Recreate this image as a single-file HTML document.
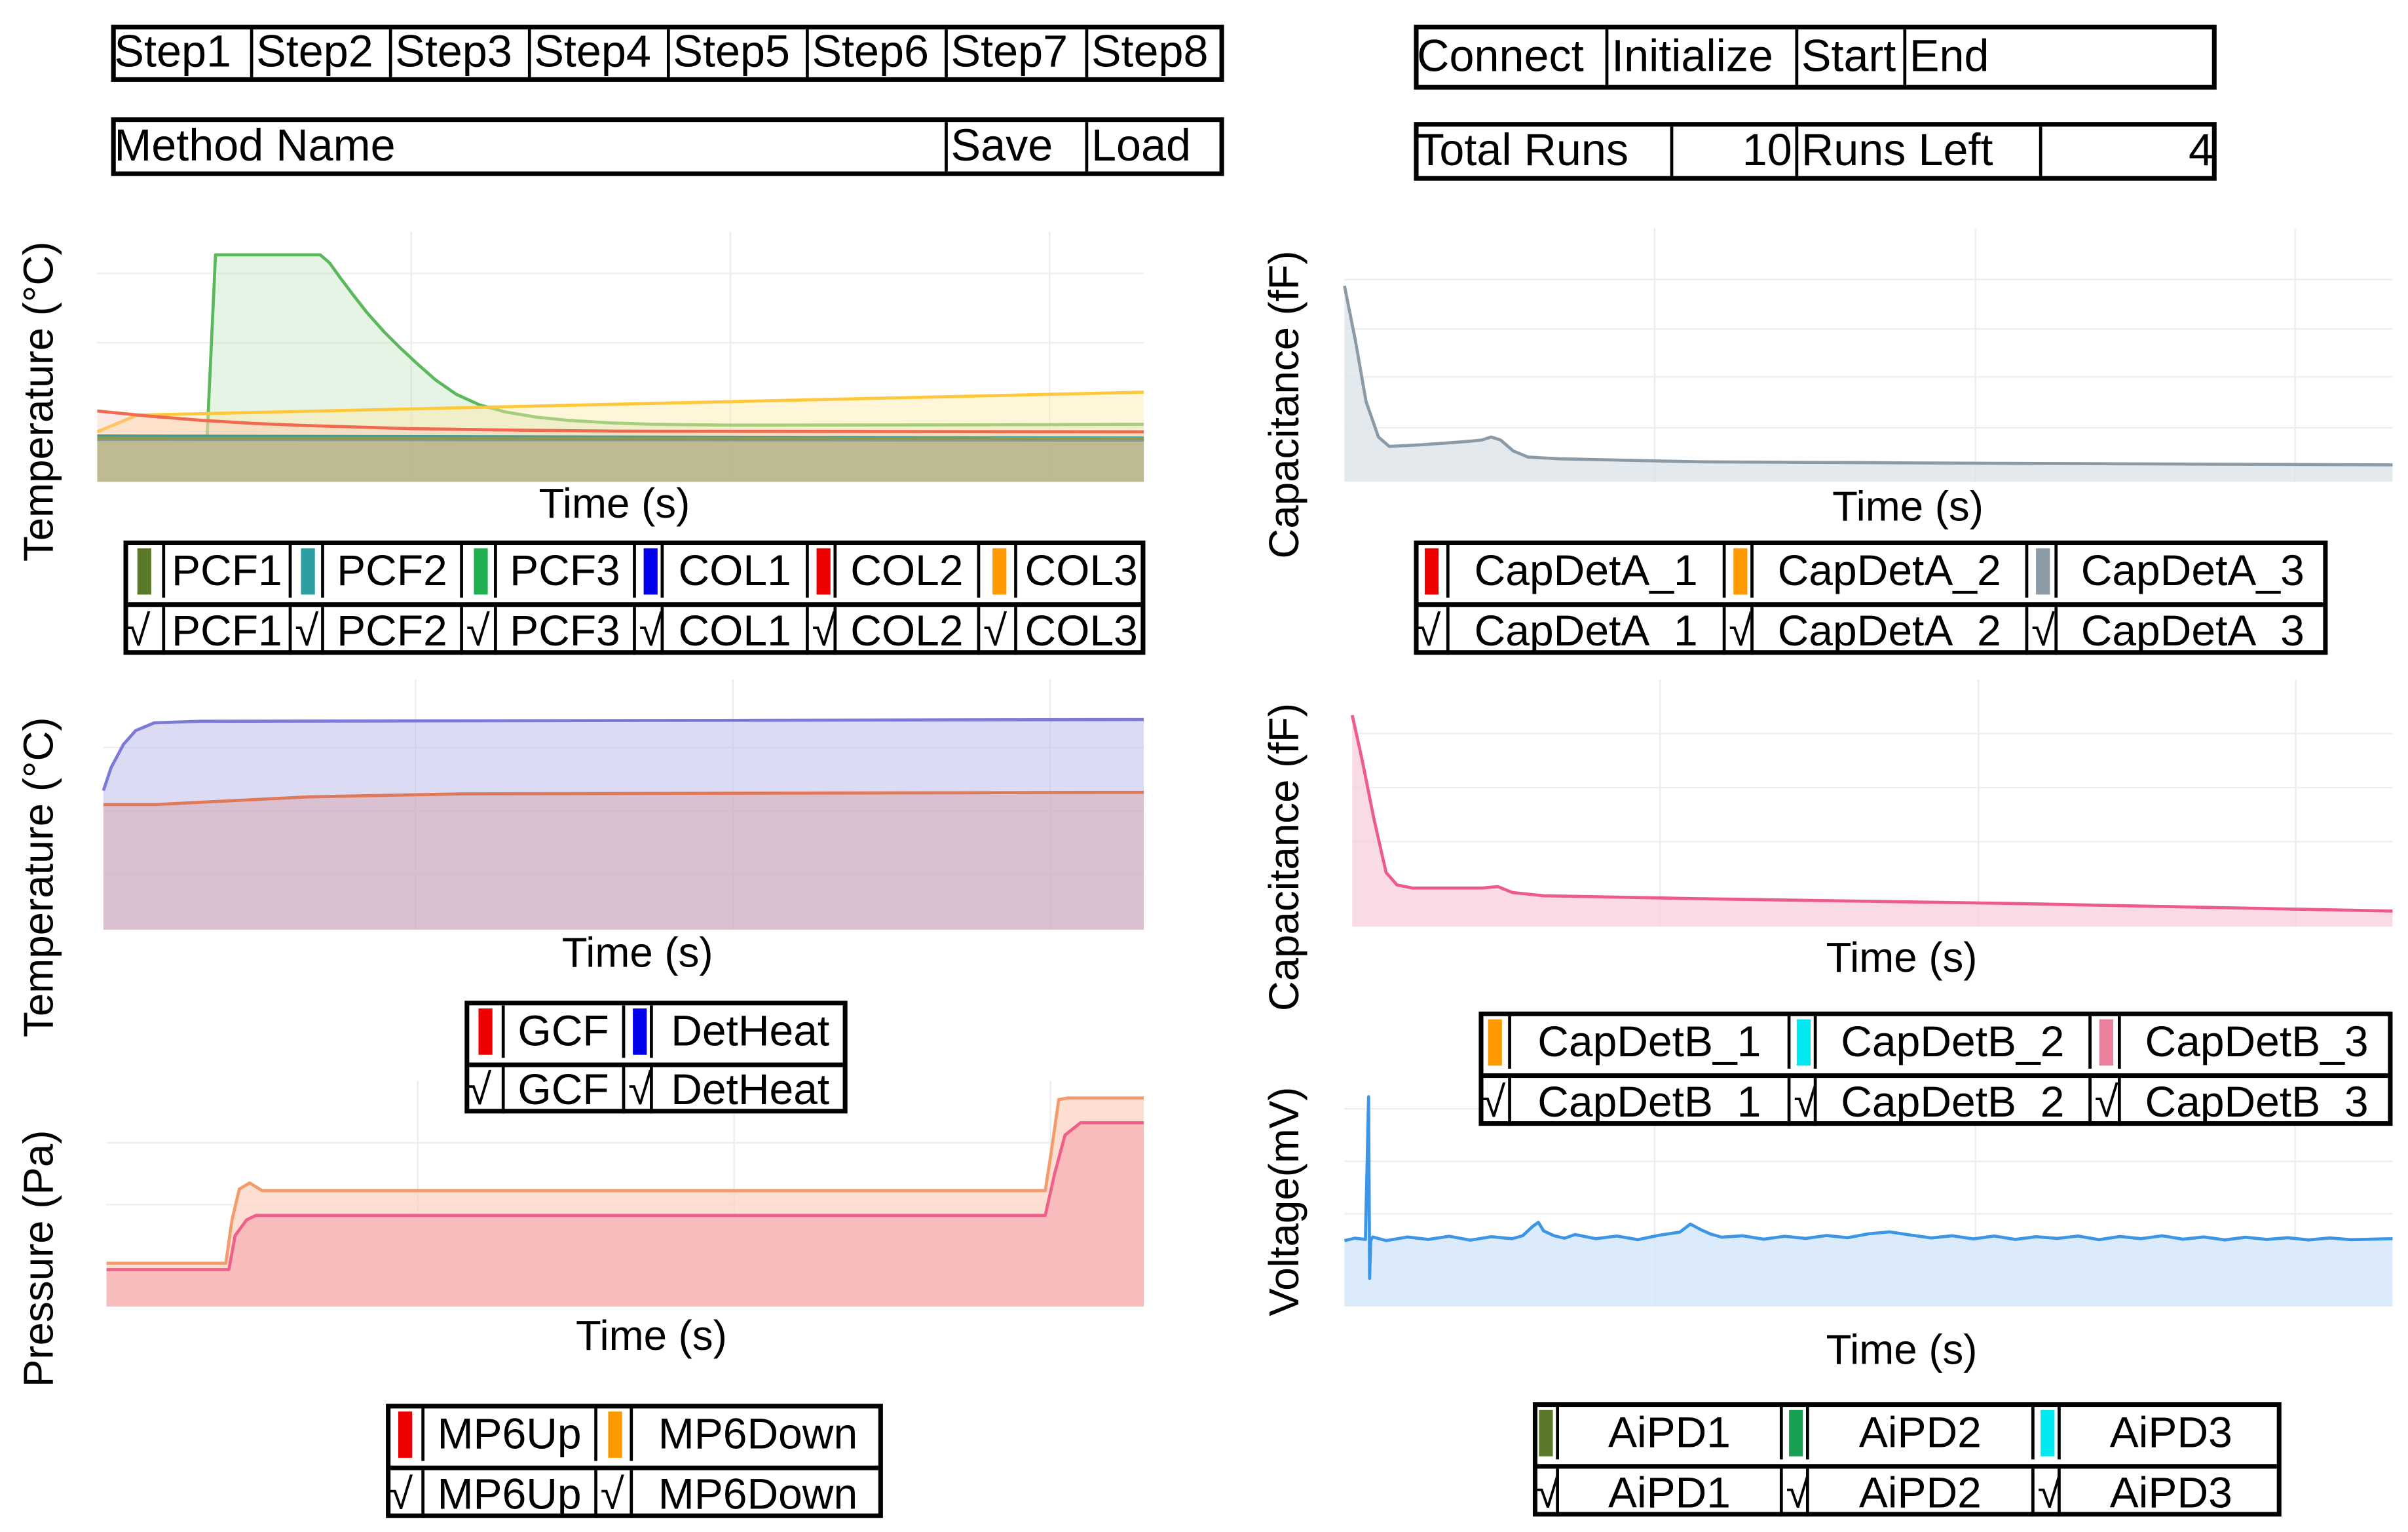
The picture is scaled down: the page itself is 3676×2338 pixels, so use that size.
<!DOCTYPE html>
<html><head><meta charset="utf-8">
<style>
html,body{margin:0;padding:0;background:#fff;}
body{width:3676px;height:2338px;overflow:hidden;}
#page{position:absolute;left:0;top:0;width:1560px;height:992px;transform:scale(2.35641,2.35685);transform-origin:0 0;}
.tb{position:absolute;border:3px solid #000;box-sizing:border-box;background:#fff;}
.cell{position:absolute;top:0;bottom:0;box-sizing:border-box;border-left:2px solid #000;white-space:nowrap;overflow:hidden;display:flex;align-items:center;color:#000;}
.top{font-family:"Liberation Sans Narrow","Liberation Sans",sans-serif;font-size:29px;}
.leg{font-family:"Liberation Sans",sans-serif;font-size:28px;}
.row{position:absolute;left:0;right:0;}
svg text{font-family:"Liberation Sans",sans-serif;fill:#000;}
</style></head><body>
<div id="page">
<svg id="charts" width="1560" height="992" viewBox="0 0 1560 992" style="position:absolute;left:0;top:0"></svg>
</div>
<script>
// ---------- Chart 1: PCF / COL temperatures ----------
const c1Grid = [30, 60.5, 91];
const pcf3T = [0,10.5,11.3,21.3,22.2,23.2,24.4,25.8,27.4,29,30.5,32.3,34.3,36.5,39,42,45,49,53,60,80,100];
const pcf3V = [21.5,22,108.9,108.9,105,98,90,81,72,64,57,49,42,37,33.5,31,29.5,28.3,27.6,27.2,27.3,27.6];
const col3T = [0,3.8,100];
const col3V = [24,32,43];
const col2T = [0,5,10,15,20,30,40,50,100];
const col2V = [34,31.5,29.5,28,27,25.5,24.8,24.3,24];
const pcf2T = [0,100];
const pcf2V = [22,21];
const col1T = [0,100];
const col1V = [20.3,20];
const pcf1T = [0,100];
const pcf1V = [21,20.8];
// ---------- Chart 2: GCF / DetHeat ----------
const c2Grid = [30, 60.5, 91];
const detT = [0,0.74,1.93,3.1,4.9,9.3,100];
const detV = [55.6,64.8,74.1,79.6,82.7,83.3,84];
const gcfT = [0,4.9,19.7,34.6,100];
const gcfV = [50,50,53.1,54.3,54.9];
// ---------- Chart 3: Pressure ----------
const c3Grid = [30, 60.5, 91];
const upT = [0,11.8,12.4,13.5,14.4,90.5,91.4,92.4,93.9,100];
const upV = [16.4,16.4,31.5,38.4,40.4,40.4,58.9,76,81.5,81.5];
const downT = [0,11.5,12.1,12.8,13.8,15,90.5,91.1,91.8,92.7,100];
const downV = [19.2,19.2,38.4,52.1,54.8,51.4,51.4,69.2,91.8,92.5,92.5];
// ---------- Chart A: CapDetA ----------
const cAGrid = [29.6, 60.2, 90.7];
const capAT = [0,1.03,2.06,3.24,4.27,7.22,11.6,13.1,14,14.9,16.1,17.5,20.5,33.7,63.2,100];
const capAV = [77.4,56.1,31.7,17.7,14,14.6,15.9,16.5,17.7,16.5,12.2,9.8,9.1,7.9,7.3,6.7];
// ---------- Chart B: CapDetB ----------
const cBGrid = [29.6, 60.2, 90.7];
const capBT = [0,0.89,2.08,3.26,4.3,5.8,12.5,14,15.4,18.4,33.2,62.9,100];
const capBV = [85.6,68.8,43.8,21.9,16.9,15.6,15.6,16.2,13.8,12.5,11.3,9.4,6.3];
// ---------- Chart V: Voltage ----------
const cVGrid = [29.6, 60.2, 90.7];
const voltT = [0,1,2,2.3,2.4,2.5,2.7,4,6,8,10,12,14,16,17,18,18.5,19,20,21,22,24,26,28,30,32,33,34,35,36,38,40,42,44,46,48,50,52,54,56,58,60,62,64,66,68,70,72,74,76,78,80,82,84,86,88,90,92,94,96,98,100];
const voltV = [27,28,27.5,86,11.5,27,28.5,27,28.5,27.5,28.8,27.2,28.6,27.8,29,33,34.5,31,29,28,29.5,27.8,28.9,27.4,29.2,30.5,33.8,31.5,29.6,28.4,29,27.6,28.8,27.9,29.1,28.2,29.8,30.6,29.3,28.1,29,27.7,28.9,27.5,28.6,27.9,28.9,27.4,28.7,27.8,29,27.6,28.5,27.3,28.4,27.5,28.2,27.3,28.1,27.4,27.6,27.8];

const NS = "http://www.w3.org/2000/svg";
const svg = document.getElementById('charts');
const page = document.getElementById('page');

function mkAxes(x0,x1,y0,y1,vmax){
  return {x:t=>x0+(t/100)*(x1-x0), y:v=>y1-(v/vmax)*(y1-y0), x0,x1,y0,y1};
}
function drawFrame(ax,grid,hgrid,name){
  const g=document.createElementNS(NS,'g');
  
  
  grid.forEach(t=>{
    const l=document.createElementNS(NS,'line');
    l.setAttribute('x1',ax.x(t));l.setAttribute('x2',ax.x(t));
    l.setAttribute('y1',ax.y0);l.setAttribute('y2',ax.y1);
    l.setAttribute('stroke','#ececec');l.setAttribute('stroke-width','1');
    
    
    g.appendChild(l);
  });
  hgrid.forEach(y=>{
    const l=document.createElementNS(NS,'line');
    l.setAttribute('x1',ax.x0);l.setAttribute('x2',ax.x1);
    l.setAttribute('y1',y);l.setAttribute('y2',y);
    l.setAttribute('stroke','#eeeeee');l.setAttribute('stroke-width','1');
    
    
    g.appendChild(l);
  });
  svg.appendChild(g);
}
function drawSeries(ax,T,V,stroke,fill,fop,name){
  const n=Math.min(T.length,V.length);
  let d='';
  for(let i=0;i<n;i++){d+=(i?'L':'M')+ax.x(T[i]).toFixed(2)+','+ax.y(V[i]).toFixed(2);}
  const area=document.createElementNS(NS,'path');
  area.setAttribute('d',d+'L'+ax.x(T[n-1])+','+ax.y1+'L'+ax.x(T[0])+','+ax.y1+'Z');
  area.setAttribute('fill',fill);area.setAttribute('fill-opacity',fop);
  
  
  svg.appendChild(area);
  const line=document.createElementNS(NS,'path');
  line.setAttribute('d',d);line.setAttribute('fill','none');
  line.setAttribute('stroke',stroke);line.setAttribute('stroke-width','2');
  line.setAttribute('stroke-linejoin','round');
  
  
  svg.appendChild(line);
}
function txt(x,y,s,size,rot,name){
  const t=document.createElementNS(NS,'text');
  t.setAttribute('x',x);t.setAttribute('y',y);
  t.setAttribute('font-size',size);t.setAttribute('text-anchor','middle');
  t.setAttribute('dominant-baseline','middle');
  if(rot)t.setAttribute('transform','rotate(-90 '+x+' '+y+')');
  t.textContent=s;
  
  
  svg.appendChild(t);
}

// Chart 1
const a1=mkAxes(63,741,150,312,120);
drawFrame(a1,c1Grid,[177,222],'temp-chart-1');
drawSeries(a1,pcf3T,pcf3V,'#5cb85c','#b6e0b6',0.35,'pcf3');
drawSeries(a1,col3T,col3V,'#ffc83a','#ffe9a8',0.45,'col3');
drawSeries(a1,col2T,col2V,'#f06a50','#f8c0b0',0.35,'col2');
drawSeries(a1,pcf2T,pcf2V,'#3a9aa0','#bcbc94',0.6,'pcf2');
drawSeries(a1,col1T,col1V,'#4a6ad0','#bcbc94',0.3,'col1');
drawSeries(a1,pcf1T,pcf1V,'#8a9a50','#b4b48a',0.6,'pcf1');
txt(398,328,'Time (s)',27,false,'x-axis-title-temp-1');
txt(27,260,'Temperature (°C)',27,true,'y-axis-title-temp-1');

// Chart 2
const a2=mkAxes(67,741,440,602,100);
drawFrame(a2,c2Grid,[484,525,566],'temp-chart-2');
drawSeries(a2,detT,detV,'#7b7bd6','#b8b8ea',0.5,'detheat');
drawSeries(a2,gcfT,gcfV,'#e0785a','#d8a8b0',0.5,'gcf');
txt(413,619,'Time (s)',27,false,'x-axis-title-temp-2');
txt(27,568,'Temperature (°C)',27,true,'y-axis-title-temp-2');

// Chart 3
const a3=mkAxes(69,741,700,846,100);
drawFrame(a3,c3Grid,[740,780],'pressure-chart');
drawSeries(a3,downT,downV,'#f59a6a','#fcd6c8',0.8,'mp6down');
drawSeries(a3,upT,upV,'#ef5f8a','#f6b4b8',0.8,'mp6up');
txt(422,867,'Time (s)',27,false,'x-axis-title-pressure');
txt(27,815,'Pressure (Pa)',27,true,'y-axis-title-pressure');

// Chart A
const aA=mkAxes(871,1550,148,312,100);
drawFrame(aA,cAGrid,[181,213,244,277],'capa-chart');
drawSeries(aA,capAT,capAV,'#8a9aa6','#dde4e8',0.8,'capdeta-3');
txt(1236,330,'Time (s)',27,false,'x-axis-title-capa');
txt(834,262,'Capacitance (fF)',27,true,'y-axis-title-capa');

// Chart B
const aB=mkAxes(876,1550,440,600,100);
drawFrame(aB,cBGrid,[475,510,545],'capb-chart');
drawSeries(aB,capBT,capBV,'#ec5a8e','#f8d2e0',0.8,'capdetb-3');
txt(1232,622,'Time (s)',27,false,'x-axis-title-capb');
txt(834,555,'Capacitance (fF)',27,true,'y-axis-title-capb');

// Chart V
const aV=mkAxes(871,1550,688,846,100);
drawFrame(aV,cVGrid,[718,752,786],'voltage-chart');
drawSeries(aV,voltT,voltV,'#3d95e6','#d6e8fa',0.85,'aipd-voltage');
txt(1232,876,'Time (s)',27,false,'x-axis-title-voltage');
txt(834,778,'Voltage(mV)',27,true,'y-axis-title-voltage');

// ---------- Tables ----------
function mkBox(x,y,w,h){
  const d=document.createElement('div');
  d.className='tb';
  d.style.left=x+'px';d.style.top=y+'px';d.style.width=w+'px';d.style.height=h+'px';
  page.appendChild(d);
  return d;
}
function mkCell(parent,x,w,text,cls,align,first){
  const c=document.createElement('div');
  c.className='cell '+cls;
  c.style.left=x+'px';c.style.width=w+'px';
  if(first)c.style.borderLeft='none';
  c.style.justifyContent=align;
  c.style.padding=align==='flex-end'?'0 2px 0 0':(align==='center'?'0':'0 0 0 2px');
  c.textContent=text;
  parent.appendChild(c);
  return c;
}
function topBar(x,y,h,bounds,labels,aligns,name,cellNames){
  const b=mkBox(x,y,bounds[bounds.length-1]-x,h);
  
  
  for(let i=0;i<labels.length;i++){
    const c=mkCell(b,bounds[i]-x-3,bounds[i+1]-bounds[i],labels[i],'top',aligns[i],i===0);
    
    
  }
}
topBar(72,16,37,[72,162,252,342,432,522,612,703,793],
  ['Step1','Step2','Step3','Step4','Step5','Step6','Step7','Step8'],
  Array(8).fill('flex-start'),'step-tabs',
  ['step1-tab','step2-tab','step3-tab','step4-tab','step5-tab','step6-tab','step7-tab','step8-tab']);
topBar(72,76,38,[72,612,703,793],['Method Name','Save','Load'],
  ['flex-start','flex-start','flex-start'],'method-bar',['method-name-input','save-button','load-button']);
topBar(916,16,42,[916,1040,1163,1233,1436],['Connect','Initialize','Start','End'],
  Array(4).fill('flex-start'),'control-bar',['connect-button','initialize-button','start-button','end-button']);
topBar(916,79,38,[916,1082,1163,1321,1436],['Total Runs','10','Runs Left','4'],
  ['flex-start','flex-end','flex-start','flex-end'],'runs-bar',['total-runs-label','total-runs-input','runs-left-label','runs-left-value']);

function legend(y,h,bounds,labels,colors,align,name){
  const x=bounds[0];
  const b=mkBox(x,y,bounds[bounds.length-1]-x,h);
  
  
  const rh=(h-6)/2;
  for(let r=0;r<2;r++){
    const row=document.createElement('div');
    row.className='row';
    row.style.top=(r*rh)+'px';row.style.height=rh+'px';
    if(r===1){row.style.borderTop='3px solid #000';row.style.height=(rh-3)+'px';row.style.top=(rh+3)+'px';}
    b.appendChild(row);
    for(let i=0;i<labels.length;i++){
      const sx=bounds[2*i]-x-3, sw=bounds[2*i+1]-bounds[2*i];
      const lx=bounds[2*i+1]-x-3, lw=bounds[2*i+2]-bounds[2*i+1];
      const s=mkCell(row,sx,sw,r===0?'':'√','leg','flex-start',i===0);
      if(r===0){
        s.style.justifyContent='center';
        const bar=document.createElement('div');
        bar.style.width='9px';bar.style.height=(rh-4)+'px';bar.style.background=colors[i];
        s.appendChild(bar);
        
        
      } else {
        
        
      }
      const l=mkCell(row,lx,lw,labels[i],'leg',align,false);
      
      
    }
  }
}
legend(350,74,[80,105,187,208,298,320,410,428,522,540,633,657,742],
  ['PCF1','PCF2','PCF3','COL1','COL2','COL3'],
  ['#5a7a2a','#2a9ea0','#1fb050','#0000ee','#ee0000','#ff9900'],'center','legend-temperature-1');
legend(648,73,[301,325,403,421,549],['GCF','DetHeat'],['#ee0000','#0000ee'],'center','legend-temperature-2');
legend(909,74,[250,273,385,408,572],['MP6Up','MP6Down'],['#ee0000','#ff9900'],'center','legend-pressure');
legend(350,74,[916,937,1116,1134,1312,1331,1508],['CapDetA_1','CapDetA_2','CapDetA_3'],
  ['#ee0000','#ff9900','#8c9aa6'],'center','legend-capdeta');
legend(655,74,[958,977,1158,1175,1353,1372,1550],['CapDetB_1','CapDetB_2','CapDetB_3'],
  ['#ff9900','#00e8f0','#e8809e'],'center','legend-capdetb');
legend(908,74,[993,1008,1153,1170,1316,1333,1478],['AiPD1','AiPD2','AiPD3'],
  ['#5a7a2a','#17a050','#00e8f0'],'center','legend-aipd');
</script>
</body></html>
